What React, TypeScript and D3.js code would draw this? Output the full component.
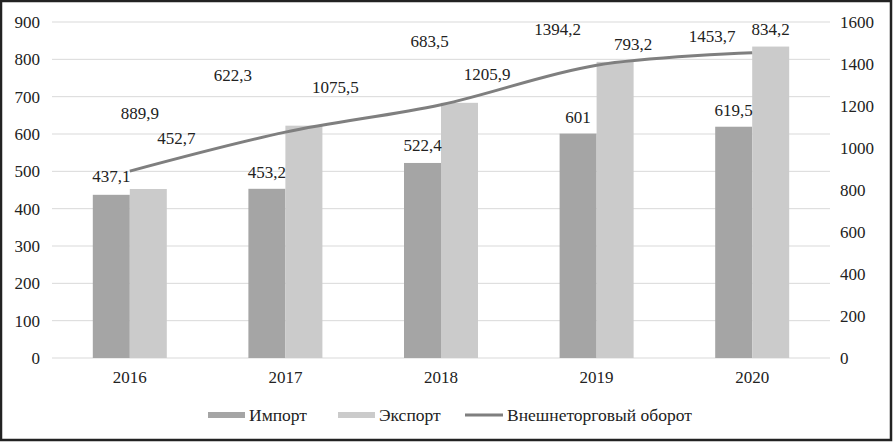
import React, { useEffect, useRef } from 'react';
import * as d3 from 'd3';

const years = ['2016', '2017', '2018', '2019', '2020'];
const importValues = [437.1, 453.2, 522.4, 601, 619.5];
const exportValues = [452.7, 622.3, 683.5, 793.2, 834.2];
const turnoverValues = [889.9, 1075.5, 1205.9, 1394.2, 1453.7];
const leftTicks = [0, 100, 200, 300, 400, 500, 600, 700, 800, 900];
const rightTicks = [0, 200, 400, 600, 800, 1000, 1200, 1400, 1600];
const seriesNames = ['Импорт', 'Экспорт', 'Внешнеторговый оборот'];

// the source chart has its labels scattered around; offsets from the mark in px
const importLabelShift = [[0, -13], [0, -11], [0, -12], [0, -11], [0, -11]];
const exportLabelShift = [[28, -45], [-71, -45], [-30, -56], [18, -12], [0, -12]];
const turnoverLabelShift = [[10, -52], [50, -39], [46, -25], [-39, -30], [-40, -11]];

const fmt = (v: number) => String(v).replace('.', ',');

const App = () => {
  const ref = useRef<SVGSVGElement>(null);

  useEffect(() => {
    const width = 893;
    const height = 442;
    const margin = { top: 22, right: 63, bottom: 84, left: 52 };
    const innerW = width - margin.left - margin.right;
    const innerH = height - margin.top - margin.bottom;

    const svg = d3.select(ref.current);
    svg.selectAll('*').remove();

    svg.append('rect')
      .attr('x', 1).attr('y', 1)
      .attr('width', width - 3).attr('height', height - 3)
      .attr('fill', '#fff')
      .attr('stroke', '#222')
      .attr('stroke-width', 2.5);

    const g = svg.append('g').attr('transform', `translate(${margin.left},${margin.top})`);

    const x = d3.scaleBand().domain(years).range([0, innerW]).paddingInner(0).paddingOuter(0);
    const xInner = d3.scaleBand().domain(['imp', 'exp']).range([0, 74]);
    const yLeft = d3.scaleLinear().domain([0, 900]).range([innerH, 0]);
    const yRight = d3.scaleLinear().domain([0, 1600]).range([innerH, 0]);

    g.selectAll('line.grid')
      .data(leftTicks)
      .enter()
      .append('line')
      .attr('x1', 0).attr('x2', innerW)
      .attr('y1', (d) => yLeft(d)).attr('y2', (d) => yLeft(d))
      .attr('stroke', '#d9d9d9')
      .attr('stroke-width', 1);

    const font = '"Liberation Serif", "Times New Roman", serif';
    const fs = 17;

    g.selectAll('text.lt')
      .data(leftTicks)
      .enter()
      .append('text')
      .attr('x', -12)
      .attr('y', (d) => yLeft(d) + 6)
      .attr('text-anchor', 'end')
      .attr('font-family', font)
      .attr('font-size', fs)
      .attr('fill', '#222')
      .text((d) => d);

    g.selectAll('text.rt')
      .data(rightTicks)
      .enter()
      .append('text')
      .attr('x', innerW + 10)
      .attr('y', (d) => yRight(d) + 6)
      .attr('text-anchor', 'start')
      .attr('font-family', font)
      .attr('font-size', fs)
      .attr('fill', '#222')
      .text((d) => d);

    g.selectAll('text.xt')
      .data(years)
      .enter()
      .append('text')
      .attr('x', (d) => x(d)! + x.bandwidth() / 2)
      .attr('y', innerH + 25)
      .attr('text-anchor', 'middle')
      .attr('font-family', font)
      .attr('font-size', fs)
      .attr('fill', '#222')
      .text((d) => d);

    const barStart = (d: string) => x(d)! + x.bandwidth() / 2 - 37;

    g.selectAll('rect.imp')
      .data(years)
      .enter()
      .append('rect')
      .attr('x', (d) => barStart(d) + xInner('imp')!)
      .attr('y', (d, i) => yLeft(importValues[i]))
      .attr('width', xInner.bandwidth())
      .attr('height', (d, i) => innerH - yLeft(importValues[i]))
      .attr('fill', '#a5a5a5');

    g.selectAll('rect.exp')
      .data(years)
      .enter()
      .append('rect')
      .attr('x', (d) => barStart(d) + xInner('exp')!)
      .attr('y', (d, i) => yLeft(exportValues[i]))
      .attr('width', xInner.bandwidth())
      .attr('height', (d, i) => innerH - yLeft(exportValues[i]))
      .attr('fill', '#cbcbcb');

    const line = d3.line<number>()
      .x((d, i) => x(years[i])! + x.bandwidth() / 2)
      .y((d) => yRight(d))
      .curve(d3.curveCatmullRom);

    g.append('path')
      .datum(turnoverValues)
      .attr('d', line)
      .attr('fill', 'none')
      .attr('stroke', '#7f7f7f')
      .attr('stroke-width', 3);

    const addLabels = (vals: number[], shifts: number[][], ax: (i: number) => number, ay: (v: number) => number) => {
      g.selectAll(null)
        .data(vals)
        .enter()
        .append('text')
        .attr('x', (d, i) => ax(i) + shifts[i][0])
        .attr('y', (d, i) => ay(d) + shifts[i][1])
        .attr('text-anchor', 'middle')
        .attr('font-family', font)
        .attr('font-size', fs)
        .attr('fill', '#222')
        .text((d) => fmt(d));
    };

    addLabels(importValues, importLabelShift,
      (i) => barStart(years[i]) + xInner('imp')! + xInner.bandwidth() / 2, (v) => yLeft(v));
    addLabels(exportValues, exportLabelShift,
      (i) => barStart(years[i]) + xInner('exp')! + xInner.bandwidth() / 2, (v) => yLeft(v));
    addLabels(turnoverValues, turnoverLabelShift,
      (i) => x(years[i])! + x.bandwidth() / 2, (v) => yRight(v));

    // legend
    const legend = svg.append('g').attr('transform', 'translate(0,415)');
    const items = [
      { name: seriesNames[0], x: 208, color: '#a5a5a5', type: 'bar' },
      { name: seriesNames[1], x: 338, color: '#cbcbcb', type: 'bar' },
      { name: seriesNames[2], x: 465, color: '#7f7f7f', type: 'line' },
    ];
    items.forEach((it) => {
      if (it.type === 'bar') {
        legend.append('rect')
          .attr('x', it.x).attr('y', -3)
          .attr('width', 37).attr('height', 6)
          .attr('fill', it.color);
      } else {
        legend.append('line')
          .attr('x1', it.x).attr('x2', it.x + 38)
          .attr('y1', 0).attr('y2', 0)
          .attr('stroke', it.color)
          .attr('stroke-width', 3);
      }
      legend.append('text')
        .attr('x', it.x + (it.type === 'bar' ? 41 : 42))
        .attr('y', 6)
        .attr('font-family', font)
        .attr('font-size', 17.5)
        .attr('fill', '#222')
        .text(it.name);
    });
  }, []);

  return (
    <svg
      ref={ref}
      width={893}
      height={442}
      style={{ position: 'absolute', left: 0, top: 0, display: 'block' }}
    />
  );
};

export default App;
